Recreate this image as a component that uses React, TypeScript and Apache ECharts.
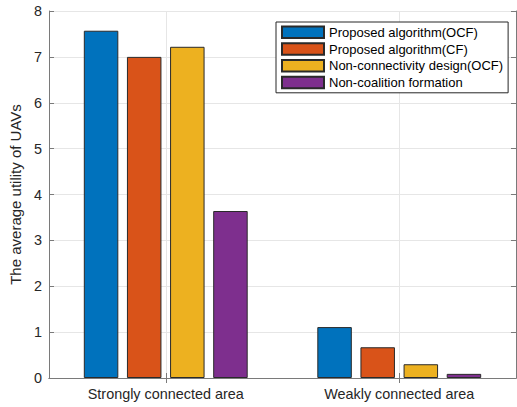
import React, { useEffect, useRef } from "react";
import * as echarts from "echarts";

const categories = ["Strongly connected area", "Weakly connected area"];
const seriesNames = [
  "Proposed algorithm(OCF)",
  "Proposed algorithm(CF)",
  "Non-connectivity design(OCF)",
  "Non-coalition formation",
];
const ocfValues = [7.57, 1.11];
const cfValues = [7.0, 0.67];
const nonConnValues = [7.22, 0.3];
const nonCoalValues = [3.64, 0.09];
const colors = ["#0072BD", "#D95319", "#EDB120", "#7E2F8E"];
const yTicks = [0, 1, 2, 3, 4, 5, 6, 7, 8];

export default function App() {
  const ref = useRef<HTMLDivElement>(null);
  useEffect(() => {
    if (!ref.current) return;
    const chart = echarts.init(ref.current, undefined, { renderer: "svg" });
    const font = "Arial, 'Liberation Sans', Helvetica, sans-serif";
    const values = [ocfValues, cfValues, nonConnValues, nonCoalValues];
    const axisColor = "#7a7a7a";
    chart.setOption({
      animation: false,
      backgroundColor: "#ffffff",
      textStyle: { fontFamily: font },
      grid: { left: 49, right: 1, top: 11, bottom: 29, containLabel: false },
      legend: {
        orient: "vertical",
        left: 276,
        top: 22,
        padding: [2, 5, 2, 5],
        itemWidth: 42,
        itemHeight: 11.5,
        itemGap: 0,
        icon: "rect",
        backgroundColor: "#ffffff",
        borderColor: "#262626",
        borderWidth: 1,
        borderRadius: 0,
        textStyle: { fontSize: 13, color: "#000", lineHeight: 16.7, fontFamily: font },
        data: seriesNames,
      },
      xAxis: [
        {
          type: "category",
          data: categories,
          position: "bottom",
          axisLine: { show: true, lineStyle: { color: axisColor, width: 1 } },
          axisTick: { show: true, inside: true, alignWithLabel: true, length: 5, lineStyle: { color: axisColor } },
          axisLabel: { fontSize: 14.4, color: "#262626", margin: 9, fontFamily: font },
          splitLine: { show: false },
        },
        {
          type: "category",
          data: ["", "", "", "", ""],
          position: "top",
          boundaryGap: false,
          axisLine: { show: true, lineStyle: { color: axisColor, width: 1 } },
          axisTick: {
            show: true,
            inside: true,
            length: 5,
            interval: (i: number) => i === 1 || i === 3,
            lineStyle: { color: axisColor },
          },
          axisLabel: { show: false },
          splitLine: {
            show: true,
            interval: (i: number) => i === 1 || i === 3,
            lineStyle: { color: "#e6e6e6", width: 1 },
          },
        },
      ],
      yAxis: [
        {
          type: "value",
          min: yTicks[0],
          max: yTicks[yTicks.length - 1],
          interval: 1,
          position: "left",
          name: "The average utility of UAVs",
          nameLocation: "middle",
          nameGap: 19,
          nameTextStyle: { fontSize: 15, color: "#262626", fontFamily: font },
          axisLine: { show: true, lineStyle: { color: axisColor, width: 1 } },
          axisTick: { show: true, inside: true, length: 5, lineStyle: { color: axisColor } },
          axisLabel: { fontSize: 14.4, color: "#262626", margin: 7, fontFamily: font },
          splitLine: { show: true, lineStyle: { color: "#e6e6e6", width: 1 } },
        },
        {
          type: "value",
          min: yTicks[0],
          max: yTicks[yTicks.length - 1],
          interval: 1,
          position: "right",
          axisLine: { show: true, lineStyle: { color: axisColor, width: 1 } },
          axisTick: { show: true, inside: true, length: 5, lineStyle: { color: axisColor } },
          axisLabel: { show: false },
          splitLine: { show: false },
        },
      ],
      series: seriesNames.map((name, i) => ({
        name,
        type: "bar",
        xAxisIndex: 0,
        yAxisIndex: 0,
        data: values[i],
        barWidth: 34.5,
        barGap: "25%",
        itemStyle: { color: colors[i], borderColor: "#2a2a2a", borderWidth: 1 },
      })),
    });
    return () => chart.dispose();
  }, []);
  return (
    <div
      ref={ref}
      style={{ position: "fixed", left: 0, top: 0, width: 517, height: 407, background: "#fff" }}
    />
  );
}
